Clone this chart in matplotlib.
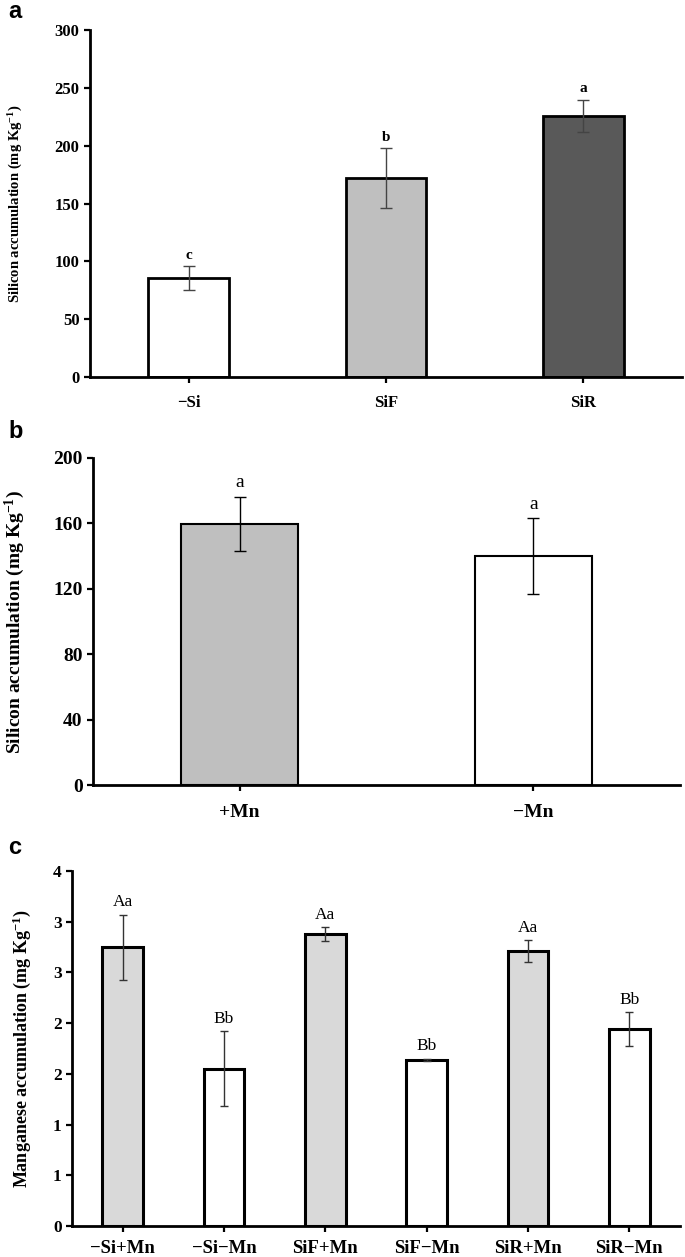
import numpy as np
import matplotlib
matplotlib.use("Agg")
import matplotlib.pyplot as plt

plt.rcParams['font.family'] = ['Liberation Serif', 'DejaVu Serif']
plt.rcParams['mathtext.fontset'] = 'custom'
plt.rcParams['mathtext.rm'] = 'Liberation Serif:bold'
plt.rcParams['mathtext.it'] = 'Liberation Serif:bold'
plt.rcParams['mathtext.bf'] = 'Liberation Serif:bold'

# panel a
a_cats = ['\u2212Si', 'SiF', 'SiR']
a_vals = [85.7, 172.2, 225.9]
a_err = [10.5, 26.0, 14.0]
a_letters = ['c', 'b', 'a']
a_colors = ['white', '#bfbfbf', '#595959']
a_ticks = [0, 50, 100, 150, 200, 250, 300]

# panel b
b_cats = ['+Mn', '\u2212Mn']
b_vals = [159.8, 140.0]
b_err = [16.6, 23.2]
b_letters = ['a', 'a']
b_colors = ['#bfbfbf', 'white']
b_ticks = [0, 40, 80, 120, 160, 200]

# panel c
c_cats = ['\u2212Si+Mn', '\u2212Si\u2212Mn', 'SiF+Mn', 'SiF\u2212Mn', 'SiR+Mn', 'SiR\u2212Mn']
c_vals = [2.75, 1.55, 2.875, 1.64, 2.71, 1.94]
c_err = [0.32, 0.37, 0.07, 0.01, 0.105, 0.17]
c_letters = ['Aa', 'Bb', 'Aa', 'Bb', 'Aa', 'Bb']
c_colors = ['#d9d9d9', 'white', '#d9d9d9', 'white', '#d9d9d9', 'white']
c_ticks = [0, 0.5, 1, 1.5, 2, 2.5, 3, 3.5]
c_ticklabels = ['0', '1', '1', '2', '2', '3', '3', '4']

W, H = 685, 1257
fig = plt.figure(figsize=(W / 100, H / 100), dpi=100)


def rect(x0, x1, ytop, ybot):
    return [x0 / W, 1 - ybot / H, (x1 - x0) / W, (ybot - ytop) / H]


def style(ax, fs, lw):
    for s in ['top', 'right']:
        ax.spines[s].set_visible(False)
    for s in ['left', 'bottom']:
        ax.spines[s].set_linewidth(lw)
    ax.tick_params(axis='both', direction='out', width=lw * 0.8, length=4,
                   labelsize=fs)
    for lab in ax.get_xticklabels() + ax.get_yticklabels():
        lab.set_fontweight('bold')


def panel(ax, cats, vals, err, letters, colors, width, blw, ecol, capsize,
          off, lfs, lweight):
    x = np.arange(len(cats))
    ax.bar(x, vals, width=width, color=colors, edgecolor='black', linewidth=blw,
           zorder=2)
    ax.errorbar(x, vals, yerr=err, fmt='none', ecolor=ecol, elinewidth=1,
                capsize=capsize, capthick=1, zorder=3)
    for xi, v, e, t in zip(x, vals, err, letters):
        ax.annotate(t, (xi, v + e), xytext=(0, off), textcoords='offset points',
                    ha='center', va='bottom', fontsize=lfs, fontweight=lweight)
    ax.set_xticks(x)
    ax.set_xticklabels(cats)
    ax.set_xlim(-0.5, len(cats) - 0.5)


# ---- a
ax = fig.add_axes(rect(90, 682, 30, 377))
panel(ax, a_cats, a_vals, a_err, a_letters, a_colors, 0.41, 2.0, '#444444', 4,
      3, 11, 'bold')
ax.set_ylim(0, 300)
ax.set_yticks(a_ticks)
ax.set_ylabel('Silicon accumulation (mg Kg$^{-1}$)', fontsize=10.5,
              fontweight='bold')
ax.yaxis.set_label_coords(-0.11, 0.5)
style(ax, 12, 2.0)
ax.tick_params(axis='x', pad=9)
fig.text(8 / W, 1 - 12 / H, 'a', family='Liberation Sans', fontweight='bold',
         fontsize=17, va='center', ha='left')

# ---- b
ax = fig.add_axes(rect(93, 680, 458, 785))
panel(ax, b_cats, b_vals, b_err, b_letters, b_colors, 0.40, 1.5, 'black', 4,
      4, 14, 'normal')
ax.set_ylim(0, 200)
ax.set_yticks(b_ticks)
ax.set_ylabel('Silicon accumulation (mg Kg$^{-1}$)', fontsize=14,
              fontweight='bold')
ax.yaxis.set_label_coords(-0.112, 0.5)
style(ax, 14, 2.0)
ax.tick_params(axis='x', pad=10)
fig.text(8 / W, 1 - 432 / H, 'b', family='Liberation Sans', fontweight='bold',
         fontsize=17, va='center', ha='left')

# ---- c
ax = fig.add_axes(rect(72, 680, 871, 1226))
panel(ax, c_cats, c_vals, c_err, c_letters, c_colors, 0.40, 2.2, '#333333', 3,
      3, 12.5, 'normal')
ax.set_ylim(0, 3.5)
ax.set_yticks(c_ticks)
ax.set_yticklabels(c_ticklabels)
ax.set_ylabel('Manganese accumulation (mg Kg$^{-1}$)', fontsize=13,
              fontweight='bold')
ax.yaxis.set_label_coords(-0.064, 0.5)
style(ax, 12.5, 2.0)
ax.tick_params(axis='x', pad=6, labelsize=13.5)
fig.text(8 / W, 1 - 848 / H, 'c', family='Liberation Sans', fontweight='bold',
         fontsize=17, va='center', ha='left')

fig.savefig('out.png', dpi=100)
